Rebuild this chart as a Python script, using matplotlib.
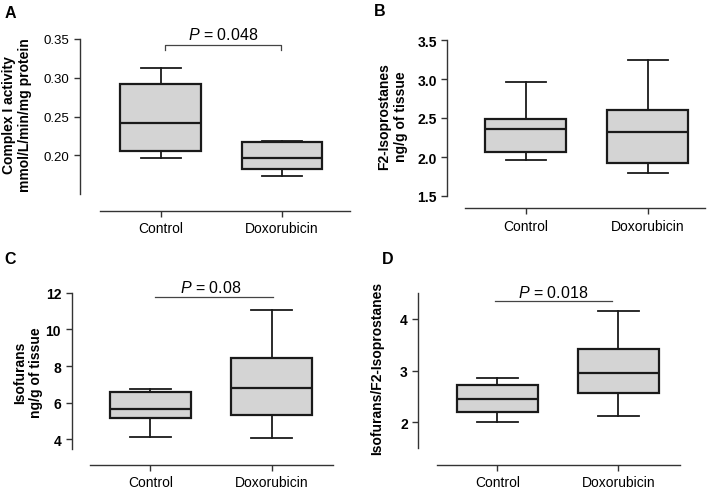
import matplotlib
matplotlib.use("Agg")
import matplotlib.pyplot as plt

plt.rcParams['font.family'] = ['Liberation Sans', 'DejaVu Sans']
plt.rcParams['mathtext.fontset'] = 'custom'
plt.rcParams['mathtext.it'] = 'Liberation Sans:italic'
plt.rcParams['mathtext.rm'] = 'Liberation Sans'

groups = ["Control", "Doxorubicin"]

# box stats per panel: whislo, q1, median, q3, whishi (Control, Doxorubicin)
complex1_whislo = [0.197, 0.173]
complex1_q1 = [0.206, 0.182]
complex1_med = [0.241, 0.197]
complex1_q3 = [0.292, 0.217]
complex1_whishi = [0.312, 0.219]

f2iso_whislo = [1.965, 1.795]
f2iso_q1 = [2.068, 1.923]
f2iso_med = [2.363, 2.32]
f2iso_q3 = [2.487, 2.603]
f2iso_whishi = [2.96, 3.248]

isof_whislo = [4.13, 4.09]
isof_q1 = [5.18, 5.35]
isof_med = [5.67, 6.8]
isof_q3 = [6.58, 8.455]
isof_whishi = [6.73, 11.07]

ratio_whislo = [2.0, 2.116]
ratio_q1 = [2.193, 2.56]
ratio_med = [2.444, 2.955]
ratio_q3 = [2.714, 3.421]
ratio_whishi = [2.862, 4.148]

W, H = 709, 489
fig = plt.figure(figsize=(W / 100, H / 100), dpi=100)


def px_axes(left, right, top, bottom):
    return fig.add_axes([left / W, 1 - bottom / H, (right - left) / W, (bottom - top) / H])


def stats(lo, q1, med, q3, hi):
    return [dict(whislo=lo[i], q1=q1[i], med=med[i], q3=q3[i], whishi=hi[i], label=groups[i])
            for i in range(len(groups))]


def draw_panel(ax, st, xlim, xstart, ylim, yticks, yfmt, offset, width, tickbold, tsize=10):
    ax.bxp(st, positions=[1, 2], widths=width, showfliers=False, patch_artist=True,
           boxprops=dict(facecolor='#d4d4d4', edgecolor='#1a1a1a', linewidth=1.6),
           medianprops=dict(color='#1a1a1a', linewidth=1.6),
           whiskerprops=dict(color='#1a1a1a', linewidth=1.3),
           capprops=dict(color='#1a1a1a', linewidth=1.3))
    ax.set_xlim(*xlim)
    ax.set_ylim(*ylim)
    for s in ['top', 'right']:
        ax.spines[s].set_visible(False)
    ax.spines['left'].set_color('#333333')
    ax.spines['bottom'].set_color('#333333')
    ax.spines['left'].set_linewidth(1.0)
    ax.spines['bottom'].set_linewidth(1.0)
    ax.spines['bottom'].set_position(('outward', offset * 0.72))
    ax.spines['bottom'].set_bounds(xstart, xlim[1])
    ax.set_yticks(yticks)
    ax.set_yticklabels([yfmt.format(v) for v in yticks], fontsize=tsize,
                       fontweight='bold' if tickbold else 'normal')
    ax.set_xticks([1, 2])
    ax.set_xticklabels(groups, fontsize=10)
    ax.tick_params(axis='both', direction='out', length=4, width=1.0, color='#333333')
    ax.patch.set_visible(False)


# A
axA = px_axes(80, 350, 40, 195)
draw_panel(axA, stats(complex1_whislo, complex1_q1, complex1_med, complex1_q3, complex1_whishi),
           (0.331, 2.562), 0.496, (0.15, 0.35), [0.20, 0.25, 0.30, 0.35], "{:.2f}", 17, 0.669, False,
           tsize=9.5)
axA.plot([1.033, 1.033, 1.99, 1.99], [0.336, 0.3423, 0.3423, 0.336], color='#444444', lw=0.9, clip_on=False)
axA.text(1.51, 0.3455, "$P$ = 0.048", ha='center', va='bottom', fontsize=11.5)

# B
axB = px_axes(447.3, 705, 41, 197)
draw_panel(axB, stats(f2iso_whislo, f2iso_q1, f2iso_med, f2iso_q3, f2iso_whishi),
           (0.355, 2.47), 0.355 + 17.7 / 121.6, (1.5, 3.5), [1.5, 2.0, 2.5, 3.0, 3.5], "{:.1f}", 12.3, 0.664, True)

# C
axC = px_axes(71.5, 333, 293.7, 449.5)
draw_panel(axC, stats(isof_whislo, isof_q1, isof_med, isof_q3, isof_whishi),
           (0.351, 2.505), 0.503, (3.5, 12), [4, 6, 8, 10, 12], "{:d}", 16, 0.667, True)
axC.plot([1.04, 2.01], [11.78, 11.78], color='#444444', lw=0.9, clip_on=False)
axC.text(1.5, 11.85, "$P$ = 0.08", ha='center', va='bottom', fontsize=11.5)

# D
axD = px_axes(418.3, 680, 293.8, 449.2)
draw_panel(axD, stats(ratio_whislo, ratio_q1, ratio_med, ratio_q3, ratio_whishi),
           (0.347, 2.51), 0.499, (1.5, 4.5), [2, 3, 4], "{:d}", 16.5, 0.67, True)
axD.plot([0.98, 1.945], [4.334, 4.334], color='#444444', lw=0.9, clip_on=False)
axD.text(1.46, 4.36, "$P$ = 0.018", ha='center', va='bottom', fontsize=11.5)

# y labels
fig.text(17 / W, 1 - 115 / H, "Complex I activity\nmmol/L/min/mg protein", rotation=90,
         ha='center', va='center', ma='center', fontsize=10, fontweight='bold')
fig.text(392.5 / W, 1 - 117 / H, "F2-Isoprostanes\nng/g of tissue", rotation=90,
         ha='center', va='center', ma='center', fontsize=10, fontweight='bold')
fig.text(28 / W, 1 - 373 / H, "Isofurans\nng/g of tissue", rotation=90,
         ha='center', va='center', ma='center', fontsize=10, fontweight='bold')
fig.text(377 / W, 1 - 368 / H, "Isofurans/F2-Isoprostanes", rotation=90,
         ha='center', va='center', fontsize=10, fontweight='bold')

# panel letters
for letter, x, y in [("A", 10, 13), ("B", 380, 12), ("C", 10, 260), ("D", 388, 260)]:
    fig.text(x / W, 1 - y / H, letter, ha='center', va='center', fontsize=11.5, fontweight='bold')

fig.savefig("out.png", dpi=100)
